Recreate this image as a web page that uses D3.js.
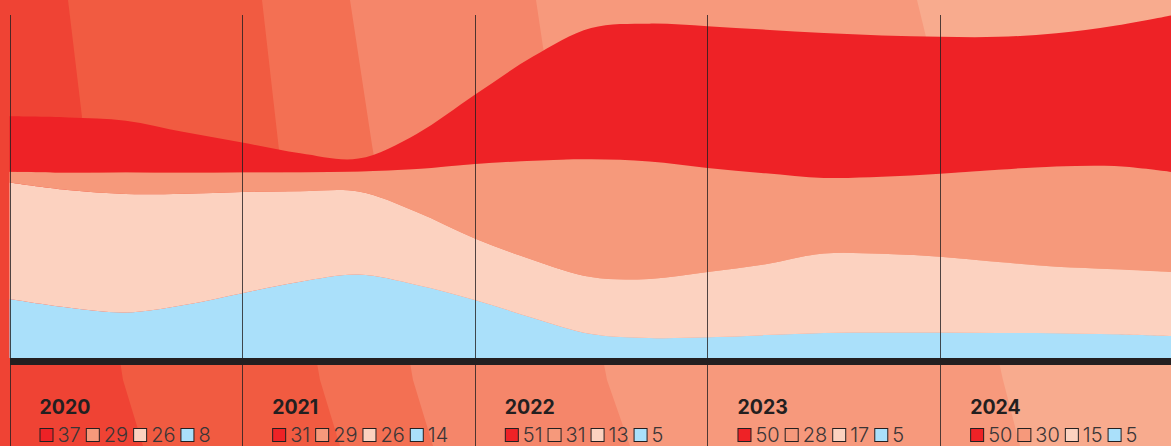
<!DOCTYPE html>
<html>
<head>
<meta charset="utf-8">
<script src="https://cdn.jsdelivr.net/npm/d3@7"></script>
<style>
  html, body { margin: 0; padding: 0; background: #F8AB8E; }
  svg { display: block; }
</style>
</head>
<body>
<svg id="chart" width="1171" height="446"></svg>
<script>
// ---- Data -------------------------------------------------------------
const years = [2020, 2021, 2022, 2023, 2024];
const redValues    = [37, 31, 51, 50, 50];
const salmonValues = [29, 29, 31, 28, 30];
const peachValues  = [26, 26, 13, 17, 15];
const blueValues   = [8, 14, 5, 5, 5];

// Stream thickness read from the picture, sampled every quarter year
// (in percent of plot height)
const sampleTimes = [2020, 2020.25, 2020.5, 2020.75, 2021, 2021.25, 2021.5, 2021.75,
  2022, 2022.25, 2022.5, 2022.75, 2023, 2023.25, 2023.5, 2023.75,
  2024, 2024.25, 2024.5, 2024.75, 2025];
const blueBand   = [16.5, 14.1, 12.7, 14.8, 18.1, 21.3, 23.3, 20.4, 16.2, 11.2, 6.7, 5.6, 5.8, 6.4, 7.0, 7.1, 7.1, 7.0, 6.9, 6.6, 6.1];
const peachBand  = [32.5, 32.8, 33.1, 31.1, 28.3, 25.3, 23.2, 20.4, 17.2, 16.2, 15.9, 16.5, 18.2, 19.8, 22.2, 22.0, 21.2, 19.8, 18.6, 18.2, 17.9];
const salmonBand = [3.0, 4.9, 6.1, 5.9, 5.5, 5.3, 5.6, 12.0, 20.8, 27.7, 32.9, 32.8, 29.1, 25.4, 21.1, 21.5, 23.2, 25.8, 28.0, 28.8, 27.9];
const redBand    = [15.5, 15.4, 14.4, 11.3, 8.3, 5.3, 3.6, 9.8, 19.3, 29.1, 36.7, 38.5, 39.6, 40.1, 40.5, 39.5, 38.2, 37.1, 37.2, 39.2, 43.9];

const seriesKeys = ["blue", "peach", "salmon", "red"];
const seriesColors = { red: "#EE2226", salmon: "#F6997B", peach: "#FCD2C0", blue: "#AAE0FA" };
const legendOrder = ["red", "salmon", "peach", "blue"];
const legendValues = { red: redValues, salmon: salmonValues, peach: peachValues, blue: blueValues };

// ---- Layout -----------------------------------------------------------
const W = 1171, H = 446;
const svg = d3.select("#chart");
const ink = "#231F20";

const x = d3.scaleLinear().domain([2020, 2025]).range([9.5, 1172.8]);
const y = d3.scaleLinear().domain([0, 100]).range([358, 0]);

// ---- Decorative background bands ------------------------------------
const bgColors = ["#EF4334", "#F15B41", "#F37053", "#F5866A", "#F7997C", "#F8AB8E"];
const bgEdges = [
  [[68, 0], [82, 117], [123, 380], [143, 446]],
  [[262, 0], [279, 150], [320, 380], [340, 446]],
  [[350, 0], [372, 145], [413, 380], [433, 446]],
  [[536, 0], [543, 47], [607, 380], [630, 446]],
  [[917, 0], [926, 37], [1003, 380], [1020, 446]]
];
const bg = svg.append("g");
bg.append("rect").attr("width", W).attr("height", H).attr("fill", bgColors[5]);
for (let i = bgEdges.length - 1; i >= 0; i--) {
  const pts = [[0, 0]].concat(bgEdges[i]).concat([[0, H]]);
  bg.append("path").attr("d", d3.line()(pts) + "Z").attr("fill", bgColors[i]);
}

// ---- Stream (stacked areas) ------------------------------------------
const table = sampleTimes.map((t, i) => ({
  t, blue: blueBand[i], peach: peachBand[i], salmon: salmonBand[i], red: redBand[i]
}));
const stacked = d3.stack().keys(seriesKeys)(table);
const area = d3.area()
  .x(d => x(d.data.t))
  .y0(d => y(d[0]))
  .y1(d => y(d[1]))
  .curve(d3.curveCatmullRom.alpha(0.5));

svg.append("g").selectAll("path")
  .data(stacked)
  .join("path")
  .attr("d", area)
  .attr("fill", d => seriesColors[d.key]);

// Baseline bar
svg.append("rect")
  .attr("x", x(2020) + 0.5).attr("y", y(0))
  .attr("width", W - x(2020)).attr("height", 7)
  .attr("fill", ink);

// Year divider lines
svg.append("g").selectAll("line")
  .data(years)
  .join("line")
  .attr("x1", d => Math.round(x(d)) + 0.5)
  .attr("x2", d => Math.round(x(d)) + 0.5)
  .attr("y1", 15).attr("y2", H)
  .attr("stroke", ink).attr("stroke-opacity", 0.8).attr("stroke-width", 1);

// ---- Labels ------------------------------------------------------------
const labels = svg.append("g");
years.forEach((yr, i) => {
  const x0 = x(yr) + 30;
  labels.append("text")
    .attr("x", x0).attr("y", 413.5)
    .attr("font-family", "Inter, 'Open Sans', sans-serif")
    .attr("font-weight", 700).attr("font-size", 19.5)
    .attr("fill", ink)
    .text(yr);
  let cx = x0;
  legendOrder.forEach(k => {
    labels.append("rect")
      .attr("x", cx + 0.5).attr("y", 428.5)
      .attr("width", 13).attr("height", 13)
      .attr("fill", seriesColors[k])
      .attr("stroke", ink).attr("stroke-width", 1);
    const t = labels.append("text")
      .attr("x", cx + 18).attr("y", 442)
      .attr("font-family", "Inter, 'Open Sans', sans-serif")
      .attr("font-weight", 300).attr("font-size", 20)
      .attr("fill", "#3a3536")
      .text(legendValues[k][i]);
    cx = cx + 18 + t.node().getComputedTextLength() + 5;
  });
});
</script>
</body>
</html>
